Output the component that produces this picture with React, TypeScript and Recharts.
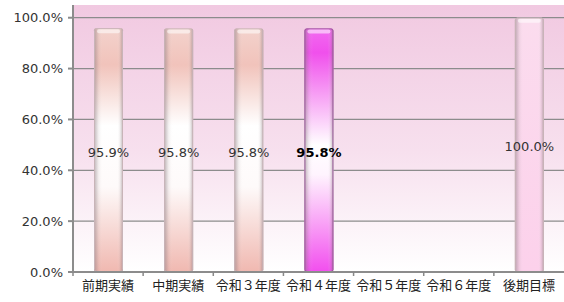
import React from 'react';
import { BarChart, Bar, XAxis, YAxis, CartesianGrid, LabelList } from 'recharts';

const categories = ['前期実績', '中期実績', '令和３年度', '令和４年度', '令和５年度', '令和６年度', '後期目標'];
const rates = [0.959, 0.958, 0.958, 0.958, null, null, 1.0];
const yTicks = [0, 0.2, 0.4, 0.6, 0.8, 1.0];

const data = categories.map((name, i) => ({ name, rate: rates[i] }));

const JP_FONT = '"Noto Sans CJK JP", "Noto Sans", sans-serif';
const NUM_FONT = '"DejaVu Sans", sans-serif';

// which gradient each bar uses
const fillFor = (name: string) => {
  if (name === '令和４年度') return 'url(#barMagenta)';
  if (name === '後期目標') return 'url(#barPink)';
  return 'url(#barPeach)';
};

const BarShape = (props: any) => {
  const { x, y, width, height, payload } = props;
  if (height == null || height <= 0) return null;
  const highlight = payload.name === '令和４年度';
  return (
    <g>
      <rect x={x} y={y} width={width} height={height} rx={2} fill={fillFor(payload.name)} />
      <rect x={x} y={y} width={width} height={height} rx={2} fill="url(#barEdge)" />
      <rect x={x + 0.5} y={y + 0.5} width={width - 1} height={height - 1} rx={2} fill="none"
        stroke={highlight ? '#9a5a9a' : '#c8b4b8'} strokeWidth={1} />
      <rect x={x + 3} y={y + 1} width={width - 6} height={4} rx={2} fill="#ffffff" opacity={0.55} />
    </g>
  );
};

const ValueLabel = (props: any) => {
  const { x, y, width, height, value, index } = props;
  if (value == null) return null;
  const bold = categories[index] === '令和４年度';
  return (
    <text x={x + width / 2} y={y + height / 2 + 2} textAnchor="middle" dominantBaseline="central"
      fontSize={13} fontWeight={bold ? 700 : 400} fill={bold ? '#000' : '#333'} fontFamily={NUM_FONT}>
      {(value * 100).toFixed(1) + '%'}
    </text>
  );
};

const CategoryTick = (props: any) => {
  const { x, y, payload } = props;
  const step = (564 - 73) / categories.length;
  return (
    <g>
      <line x1={x - step / 2} y1={y - 8} x2={x - step / 2} y2={y - 4} stroke="#888" strokeWidth={1.5} />
      <text x={x} y={y + 10} textAnchor="middle" fontSize={13} fill="#222" fontFamily={JP_FONT}>
        {payload.value}
      </text>
    </g>
  );
};

export default function App() {
  return (
    <div style={{ position: 'absolute', left: 0, top: 0, width: 564, height: 302, background: '#fff' }}>
      <BarChart width={564} height={302} data={data} margin={{ top: 5, right: 0, bottom: 0, left: 0 }}>
        <defs>
          <linearGradient id="bg" x1="0" y1="0" x2="0" y2="1">
            <stop offset="0%" stopColor="#f1c9e1" />
            <stop offset="55%" stopColor="#f7e0ee" />
            <stop offset="100%" stopColor="#ffffff" />
          </linearGradient>
          <linearGradient id="barPeach" x1="0" y1="0" x2="0" y2="1">
            <stop offset="0%" stopColor="#f3d2cc" />
            <stop offset="15%" stopColor="#f1c3bb" />
            <stop offset="40%" stopColor="#ffffff" />
            <stop offset="65%" stopColor="#fefafa" />
            <stop offset="100%" stopColor="#f0b8b0" />
          </linearGradient>
          <linearGradient id="barMagenta" x1="0" y1="0" x2="0" y2="1">
            <stop offset="0%" stopColor="#f26af0" />
            <stop offset="10%" stopColor="#f050ec" />
            <stop offset="48%" stopColor="#ffffff" />
            <stop offset="60%" stopColor="#fff4fe" />
            <stop offset="100%" stopColor="#f24eee" />
          </linearGradient>
          <linearGradient id="barPink" x1="0" y1="0" x2="0" y2="1">
            <stop offset="0%" stopColor="#fbdcee" />
            <stop offset="100%" stopColor="#fcd1eb" />
          </linearGradient>
          <linearGradient id="barEdge" x1="0" y1="0" x2="1" y2="0">
            <stop offset="0%" stopColor="#8a7a80" stopOpacity={0.55} />
            <stop offset="15%" stopColor="#8a7a80" stopOpacity={0.12} />
            <stop offset="30%" stopColor="#ffffff" stopOpacity={0} />
            <stop offset="80%" stopColor="#ffffff" stopOpacity={0} />
            <stop offset="92%" stopColor="#8a7a80" stopOpacity={0.2} />
            <stop offset="100%" stopColor="#8a7a80" stopOpacity={0.55} />
          </linearGradient>
        </defs>
        <CartesianGrid vertical={false} stroke="#8c8c8c" strokeWidth={1.2} fill="url(#bg)" syncWithTicks />
        <XAxis dataKey="name" height={30} interval={0} tickLine={false} stroke="#8c8c8c" strokeWidth={2}
          tick={<CategoryTick />} />
        <YAxis domain={[0, 1.05]} ticks={yTicks} width={73} stroke="#8c8c8c" strokeWidth={2}
          tickSize={5} tickMargin={5}
          tick={{ fontSize: 13, fill: '#333', fontFamily: NUM_FONT }}
          tickFormatter={(v: number) => (v * 100).toFixed(1) + '%'} />
        <Bar dataKey="rate" barSize={29} shape={<BarShape />} isAnimationActive={false}>
          <LabelList dataKey="rate" content={<ValueLabel />} />
        </Bar>
      </BarChart>
    </div>
  );
}
